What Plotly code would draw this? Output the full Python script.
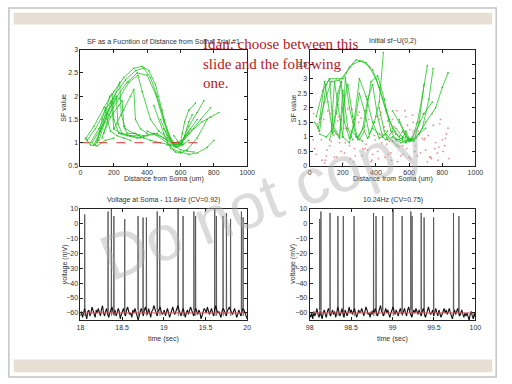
import numpy as np
import plotly.graph_objects as go

# ---------------- data ----------------
sf_left_x = [
    [30,80,140,200,260,320,370,410,450,490,520,560,600,640,680],
    [40,90,150,210,270,330,380,420,460,500,540,580,610,650],
    [60,110,160,220,280,340,400,450,500,540,580,620],
    [70,120,170,230,290,345,370,420,470,520,560,600,630,700],
    [80,120,160,200,235,245,270,320,380,440,500,560,610,660],
    [90,130,175,190,200,230,280,340,400,460,520,570,610],
    [100,130,150,160,180,220,260,300],
    [110,140,170,185,200,240,300,360],
    [130,160,200,215,225,250,300,350,420,480,540,600,650,720,780],
    [140,180,230,250,260,280,330,380],
    [200,260,300,320,330,360,400],
    [480,520,560,600,620,650,700,740],
    [500,550,590,610,640,680,730,780,830],
    [440,500,540,570,600,640,700,760],
    [520,560,600,610,625,650,690],
    [400,460,520,560,600,650,700,760,800],
    [560,590,605,620,650,670],
    [30,60,100,150,200],
]
sf_left_y = [
    [1.08,1.35,1.75,2.1,2.4,2.6,2.64,2.55,2.25,1.7,1.25,0.95,0.85,0.82,0.8],
    [1.05,1.3,1.7,2.05,2.35,2.55,2.6,2.4,2.0,1.5,1.1,0.92,0.95,1.05],
    [1.0,1.3,1.65,2.0,2.3,2.5,2.45,2.05,1.45,1.05,0.9,0.97],
    [1.0,1.3,1.6,1.95,2.3,2.45,2.1,1.5,1.25,1.1,1.0,0.98,1.15,1.5],
    [0.95,1.25,1.6,1.95,2.3,1.6,1.3,1.2,1.15,1.2,1.1,1.0,1.05,1.3],
    [0.96,1.35,2.0,2.05,1.5,1.2,1.15,1.1,1.15,1.2,1.05,0.9,1.0],
    [1.0,1.5,1.75,1.5,1.25,1.15,1.1,1.05],
    [1.05,1.4,1.7,1.9,1.3,1.2,1.15,1.1],
    [1.1,1.45,1.85,2.0,1.4,1.2,1.15,1.15,1.05,1.0,0.95,0.98,1.2,1.5,1.75],
    [1.2,1.55,1.8,1.9,1.35,1.2,1.2,1.1],
    [1.3,1.7,2.0,2.15,1.5,1.3,1.2],
    [1.5,1.15,0.95,0.98,1.1,1.35,1.65,1.9],
    [1.3,1.0,0.95,1.0,1.15,1.3,1.45,1.55,1.65],
    [1.8,1.2,0.88,0.8,0.78,0.85,1.1,1.5],
    [0.95,0.93,1.0,1.2,1.45,1.7,1.85],
    [1.25,1.15,1.0,0.85,0.8,0.75,0.78,0.9,1.05],
    [1.15,1.0,0.97,1.1,1.45,1.6],
    [1.1,0.95,0.93,1.05,1.1],
]
ref_line_x = [0, 750]
ref_line_y = [1, 1]

sf_right_x = [
    [40,80,120,160,200,240,280,320,360,400,440,480,520,560,600],
    [50,90,130,180,220,260,300,340,380,420,460,500,540],
    [30,60,100,120,140,180,200,230,260],
    [60,100,130,150,170,200,215,240,280,320],
    [120,160,190,210,240,270,300,330,360,390,420,445],
    [150,180,200,230,260,290,320,350,380,410,440,470],
    [200,240,270,300,340,380,420,460,500,530],
    [250,290,330,370,410,450,490,520,550,580,610,640],
    [520,560,590,620,650,680,710],
    [540,580,610,640,680,720,745],
    [560,600,630,660,700,760,800,835],
    [500,540,580,600,620,650,690,740],
    [520,560,580,600,630,660,690],
    [420,450,470,500,540,580,620,660,700],
    [60,90,110,140,170,190],
    [300,330,350,380,420,460,500],
]
sf_right_y = [
    [1.7,2.6,3.0,3.0,3.0,3.4,3.65,3.6,3.4,3.0,2.3,1.6,1.1,0.9,0.85],
    [1.3,2.2,2.9,2.95,3.2,3.5,3.6,3.55,3.3,2.7,1.9,1.3,1.0],
    [1.5,1.2,2.8,3.0,1.4,1.0,2.6,1.3,0.9],
    [1.1,1.0,1.2,2.9,2.1,1.0,3.05,2.0,1.0,0.85],
    [0.9,1.8,2.9,1.5,0.95,1.4,2.5,1.9,1.1,1.5,2.2,3.9],
    [1.2,0.95,2.0,2.8,1.7,0.9,1.3,2.3,2.8,1.7,1.0,1.2],
    [1.0,0.8,1.6,3.0,2.4,1.5,0.95,1.1,0.85,0.7],
    [1.2,1.0,1.35,2.9,3.1,2.3,1.2,0.9,0.8,0.85,0.9,0.95],
    [1.3,1.0,0.9,0.95,1.5,2.4,3.45],
    [1.6,1.0,0.85,0.95,1.3,2.3,3.35],
    [1.2,0.9,0.9,1.1,1.5,2.0,2.7,3.2],
    [1.9,1.5,1.1,0.9,1.0,1.3,1.8,2.2],
    [0.9,0.95,1.2,0.95,0.85,1.5,2.8],
    [2.0,1.2,0.9,1.0,0.9,0.8,0.9,1.1,1.3],
    [1.6,2.9,2.2,1.1,2.5,2.9],
    [0.9,1.2,0.95,1.3,1.1,0.9,1.2],
]

init_dots_x = [25,40,55,70,85,95,110,120,135,150,160,175,190,205,215,230,245,260,270,285,
               300,315,330,340,355,370,385,395,410,425,440,455,470,480,495,510,525,540,555,565,
               580,595,610,625,640,655,670,685,700,715,730,745,760,775,790,805,820,835,
               30,65,100,140,180,220,265,310,350,390,430,475,515,560,600,645,690,735,780,825,
               50,90,130,170,210,250,290,335,375,420,465,505,550,590,635,680,725,770,815,
               20,45,75,105,125,145,165,185,200,225,240,255,275,295,320,345,360,380,400,415,
               435,450,465,490,500,530,545,575,585,605,620,650,665,695,710,740,755,785,800,840]
init_dots_y = [1.8,0.4,1.2,0.9,1.6,0.2,1.9,0.7,1.4,0.3,1.1,1.7,0.5,1.3,0.8,1.95,0.25,1.5,0.6,1.0,
               1.85,0.35,1.25,0.75,1.6,0.15,1.45,0.9,0.5,1.75,1.1,0.3,1.55,0.85,0.2,1.35,1.9,0.65,1.15,0.4,
               1.7,0.95,0.25,1.5,0.7,1.2,0.45,1.8,0.55,1.05,0.3,1.4,0.8,0.2,1.6,0.5,0.95,1.3,
               0.6,1.5,0.35,1.9,0.8,1.3,0.15,1.65,0.55,1.05,1.85,0.4,1.2,0.7,0.3,1.45,0.9,0.25,0.65,1.1,
               1.35,0.1,0.85,1.55,0.45,1.0,1.75,0.6,0.2,1.6,0.75,1.15,0.35,1.4,0.5,0.95,0.3,0.45,0.7,
               0.9,1.45,0.2,0.55,1.8,1.05,0.3,1.6,0.1,1.25,0.7,1.95,0.35,1.5,0.6,1.9,1.0,0.4,1.7,0.25,
               0.8,1.35,1.85,0.45,1.6,0.15,1.05,1.9,0.6,1.25,1.75,0.35,1.55,0.95,0.15,1.8,0.6,1.45,0.9,0.25]

base_left = [
    -62,-59,-63,-60,-57,-61,-64,-59,-58,-62, -60,-56,-59,-61,-63,-58,-60,-57,-59,-62,
    -58,-55,-60,-62,-59,-57,-61,-63,-60,-58, -56,-59,-61,-58,-62,-60,-57,-59,-64,-61,
    -59,-57,-60,-62,-58,-56,-59,-61,-60,-63, -58,-60,-57,-59,-62,-65,-61,-59,-57,-60,
    -62,-58,-56,-59,-61,-57,-60,-63,-59,-58, -55,-58,-60,-62,-59,-57,-56,-59,-61,-60,
    -58,-62,-59,-57,-60,-63,-61,-58,-56,-59, -61,-59,-57,-55,-58,-60,-62,-59,-57,-60,
    -63,-60,-58,-61,-59,-56,-58,-60,-62,-59, -57,-59,-61,-58,-60,-64,-62,-59,-57,-58,
    -60,-56,-58,-61,-59,-57,-60,-62,-58,-55, -58,-60,-59,-61,-63,-59,-57,-58,-60,-62,
    -59,-57,-56,-58,-60,-61,-59,-57,-60,-63, -61,-58,-60,-62,-59,-57,-58,-60,-63,-64]
base_right = [
    -61,-63,-60,-64,-59,-62,-60,-57,-61,-63, -59,-62,-64,-60,-58,-61,-63,-59,-57,-60,
    -62,-60,-58,-61,-59,-63,-60,-56,-59,-62, -60,-57,-61,-63,-58,-60,-62,-59,-56,-60,
    -58,-61,-59,-57,-60,-63,-61,-58,-60,-59, -57,-60,-62,-59,-56,-58,-61,-60,-63,-59,
    -61,-58,-60,-57,-59,-62,-60,-58,-55,-59, -60,-62,-59,-57,-60,-58,-61,-63,-60,-58,
    -56,-59,-61,-58,-60,-62,-59,-57,-60,-61, -59,-57,-60,-62,-58,-56,-59,-61,-63,-60,
    -58,-60,-57,-59,-61,-58,-60,-62,-59,-57, -60,-63,-61,-58,-56,-59,-61,-60,-58,-62,
    -59,-57,-60,-62,-58,-60,-63,-61,-59,-57, -60,-58,-61,-59,-57,-60,-62,-64,-60,-58,
    -61,-59,-57,-60,-62,-60,-58,-61,-63,-60, -62,-60,-63,-65,-61,-59,-62,-64,-60,-63]

spike_t_left = [18.05,18.33,18.37,18.40,18.53,18.69,18.75,18.79,18.92,18.95,19.17,19.23,
                19.36,19.38,19.61,19.63,19.71,19.75,19.80,19.93,19.95]
spike_v_left = [6,8,10,5,3,5,4,4,8,5,10,5,8,5,10,5,5,7,3,8,4]
spike_t_right = [98.12,98.135,98.245,98.34,98.405,98.535,98.77,98.80,98.88,99.005,99.115,
                 99.22,99.235,99.345,99.38,99.495,99.735,99.80]
spike_v_right = [3,8,7,5,5,5,7,5,5,10,5,8,5,7,4,4,7,5]
threshold = -60

# ---------------- helpers ----------------
W, H = 512, 384
def px(x): return x / W
def py(y): return 1 - y / H

def spikes(st, sv):
    xs, ys = [], []
    for t, v in zip(st, sv):
        xs += [t - 0.001, t + 0.001, t + 0.004, None]
        ys += [-58, v, -62, None]
    return xs, ys

fig = go.Figure()
green = "#22c422"
for xs, ys in zip(sf_left_x, sf_left_y):
    fig.add_trace(go.Scatter(x=xs, y=ys, mode="lines+markers", xaxis="x", yaxis="y",
                             line=dict(color=green, width=0.8), marker=dict(size=1.6, color=green),
                             showlegend=False, hoverinfo="skip"))
fig.add_trace(go.Scatter(x=ref_line_x, y=ref_line_y, mode="lines", xaxis="x", yaxis="y",
                         line=dict(color="#e03030", width=1, dash="dash"), showlegend=False))

fig.add_trace(go.Scatter(x=init_dots_x, y=init_dots_y, mode="markers", xaxis="x2", yaxis="y2",
                         marker=dict(size=1.8, color="rgba(220,90,90,0.65)"), showlegend=False))
for xs, ys in zip(sf_right_x, sf_right_y):
    fig.add_trace(go.Scatter(x=xs, y=ys, mode="lines+markers", xaxis="x2", yaxis="y2",
                             line=dict(color=green, width=0.8), marker=dict(size=1.6, color=green),
                             showlegend=False, hoverinfo="skip"))

for (t0, t1, base, st, sv, xa, ya) in [(18, 20, base_left, spike_t_left, spike_v_left, "x3", "y3"),
                                       (98, 100, base_right, spike_t_right, spike_v_right, "x4", "y4")]:
    sx, sy = spikes(st, sv)
    fig.add_trace(go.Scatter(x=sx, y=sy, mode="lines", xaxis=xa, yaxis=ya, connectgaps=False,
                             line=dict(color="#555555", width=0.9), showlegend=False))
    fig.add_trace(go.Scatter(x=np.linspace(t0, t1, len(base)), y=base, mode="lines", xaxis=xa, yaxis=ya,
                             line=dict(color="#111111", width=1.1), showlegend=False))
    fig.add_trace(go.Scatter(x=[t0, t1], y=[threshold, threshold], mode="lines", xaxis=xa, yaxis=ya,
                             line=dict(color="#e05060", width=1), showlegend=False))

tickfont = dict(size=7, color="#333333", family="Liberation Sans, Arial")
def ax(dom, rng, tv, anchor, **kw):
    d = dict(domain=dom, range=rng, tickvals=tv, anchor=anchor, showline=True, linecolor="#222222",
             linewidth=1, mirror="ticks", ticks="inside", ticklen=3, tickcolor="#222222",
             showgrid=False, zeroline=False, tickfont=tickfont, fixedrange=True)
    d.update(kw)
    return d

xL = [px(78.3), px(249)]
xR = [px(313), px(482.7)]
yT = [py(165), py(46.5)]
yB = [py(322.3), py(208.3)]

fig.update_layout(
    width=W, height=H, margin=dict(l=0, r=0, t=0, b=0),
    paper_bgcolor="white", plot_bgcolor="white",
    xaxis=ax(xL, [0, 1000], [0, 200, 400, 600, 800, 1000], "y"),
    yaxis=ax(yT, [0.5, 3], [0.5, 1, 1.5, 2, 2.5, 3], "x"),
    xaxis2=ax(xR, [0, 1000], [0, 200, 400, 600, 800, 1000], "y2"),
    yaxis2=ax(yT, [0, 4], [0, 0.5, 1, 1.5, 2, 2.5, 3, 3.5], "x2"),
    xaxis3=ax(xL, [18, 20], [18, 18.5, 19, 19.5, 20], "y3"),
    yaxis3=ax(yB, [-65, 10], [-60, -50, -40, -30, -20, -10, 0, 10], "x3"),
    xaxis4=ax(xR, [98, 100], [98, 98.5, 99, 99.5, 100], "y4"),
    yaxis4=ax(yB, [-65, 10], [-60, -50, -40, -30, -20, -10, 0, 10], "x4"),
)

shapes = [
    dict(type="rect", xref="paper", yref="paper", x0=px(5), x1=px(504), y0=py(380), y1=py(4),
         line=dict(color="#c4c4c4", width=1.5), fillcolor="rgba(0,0,0,0)", layer="below"),
    dict(type="rect", xref="paper", yref="paper", x0=px(10), x1=px(500), y0=py(21), y1=py(9),
         line=dict(width=0), fillcolor="#e7dfd3", layer="below"),
    dict(type="rect", xref="paper", yref="paper", x0=px(10), x1=px(500), y0=py(375), y1=py(362),
         line=dict(width=0), fillcolor="#e7dfd3", layer="below"),
]
fig.update_layout(shapes=shapes)

lab = dict(size=7, color="#333333", family="Liberation Sans, Arial")
def text(x, y, s, angle=0, font=lab, **kw):
    d = dict(x=px(x), y=py(y), xref="paper", yref="paper", text=s, showarrow=False,
             textangle=angle, font=font, xanchor="center", yanchor="middle")
    d.update(kw)
    return d

annotations = [
    text(163.7, 38, "SF as a Fucntion of Distance from Soma, Trial #1"),
    text(398, 38, "Initial sf~U(0,2)"),
    text(163.7, 178, "Distance from Soma (um)"),
    text(398, 178, "Distance from Soma (um)"),
    text(60, 106, "SF value", angle=-90),
    text(296, 106, "SF value", angle=-90),
    text(163.7, 199.5, "Voltage at Soma - 11.6Hz (CV=0.92)"),
    text(398, 199.5, "10.24Hz (CV=0.75)"),
    text(62.5, 265, "voltage (mV)", angle=-90),
    text(296.5, 265, "voltage (mV)", angle=-90),
    text(163.7, 341, "time (sec)"),
    text(398, 341, "time (sec)"),
    text(265, 200, "Do not copy", angle=-21,
         font=dict(size=64, color="rgba(170,170,170,0.42)", family="Liberation Sans, Arial")),
    text(202, 31, "Idan: choose between this<br>slide and the following<br>one.",
         font=dict(size=15, color="#b3181d", family="Liberation Serif, Times New Roman"),
         xanchor="left", yanchor="top", align="left"),
]
fig.update_layout(annotations=annotations)

fig.write_html("out.html", config={"displayModeBar": False},
               post_script="document.body.style.margin='0px';document.body.style.overflow='hidden';")
